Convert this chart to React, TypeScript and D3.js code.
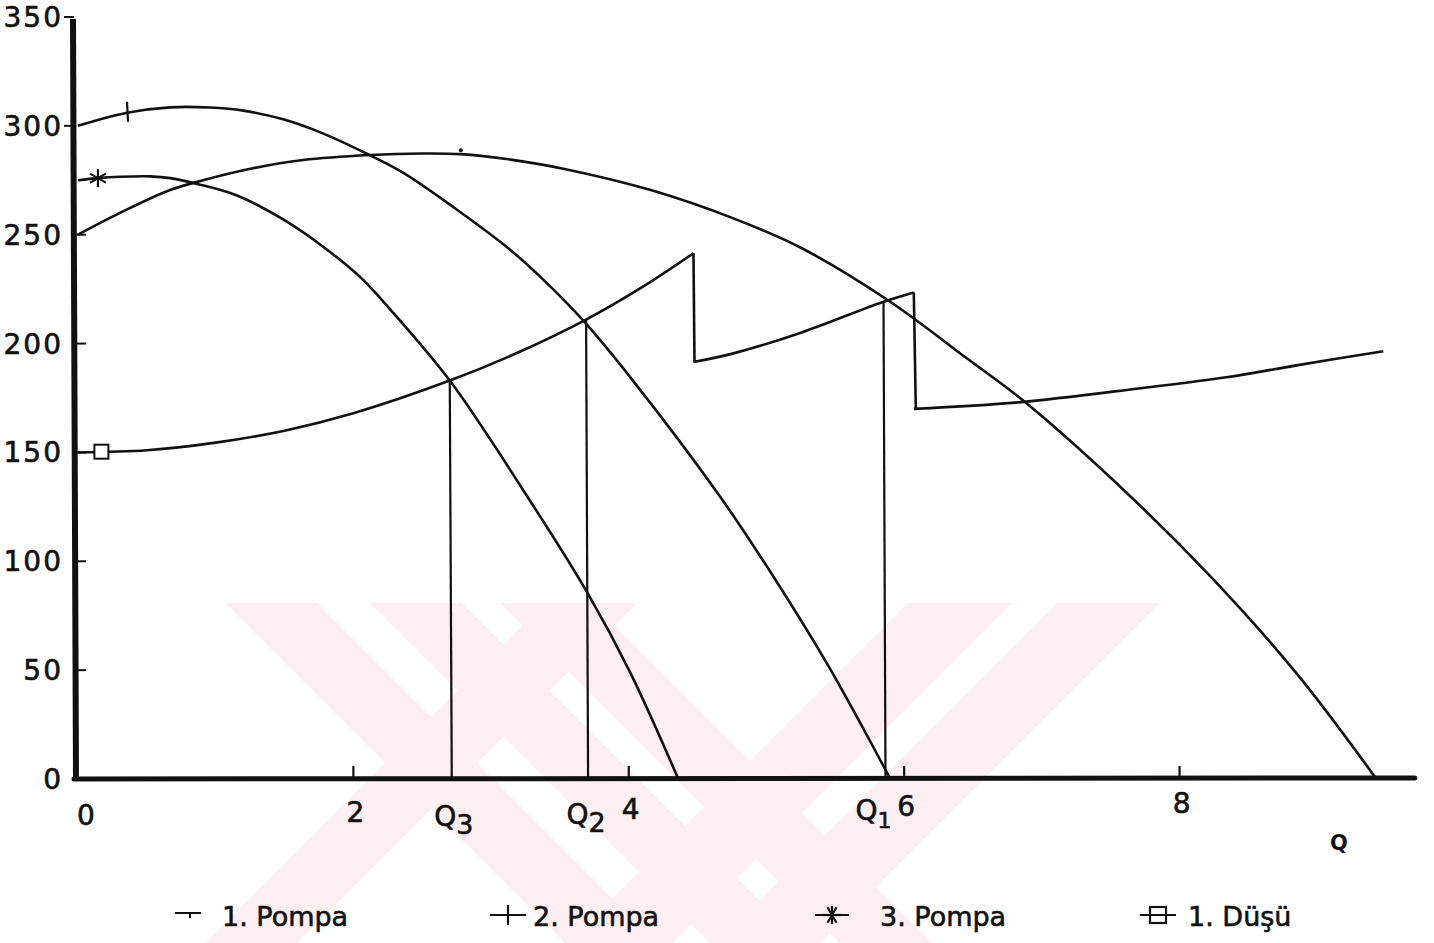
import React from "react";
import * as d3 from "d3";

const W = 1434;
const H = 943;

// axis ticks
const yTicks = [0, 50, 100, 150, 200, 250, 300, 350];
const xTicks = [0, 2, 4, 6, 8];

// 1. Pompa (starts at 250)
const pompa1Q = [0, 0.305, 0.669, 0.908, 1.27, 1.635, 2.12, 2.5, 2.78, 3.14, 3.55, 4.16, 4.76, 5.25, 5.88, 6.46, 6.88, 7.64, 8.24, 8.85, 9.43];
const pompa1H = [250, 260, 270.5, 275, 280.5, 284.3, 286.6, 287.3, 287, 284.5, 280, 270.5, 257.5, 244, 220, 193, 173, 130, 92, 48.5, 0];

// 2. Pompa (starts at 300)
const pompa2Q = [0, 0.356, 0.669, 0.96, 1.2, 1.49, 1.76, 2.12, 2.36, 2.73, 3.14, 3.36, 3.67, 4.03, 4.66, 5.05, 5.44, 5.67, 5.9];
const pompa2H = [300, 306, 308.5, 308.4, 307, 303, 297, 286.5, 278.5, 262.5, 243, 230.5, 210.5, 183, 130, 93, 53, 27, 0];

// 3. Pompa (starts at 275)
const pompa3Q = [0, 0.145, 0.305, 0.523, 0.67, 0.887, 1.155, 1.49, 1.78, 2.05, 2.27, 2.7, 3.23, 3.7, 4.01, 4.36];
const pompa3H = [275, 276, 276.6, 276.8, 276, 273, 268, 257, 244.5, 230.5, 215.5, 183, 133, 85.5, 49, 0];

// 1. Düşü (system curve, three segments)
const dusu1Q = [0, 0.5, 1, 1.5, 2, 2.7, 3.2, 3.69, 4.1, 4.47];
const dusu1H = [150, 151, 154.5, 160, 168, 183, 196, 211, 226, 241.5];
const dusu2Q = [4.47, 4.76, 5.25, 5.84, 6.07];
const dusu2H = [191.5, 195.5, 205, 219, 223.5];
const dusu3Q = [6.07, 6.83, 7.72, 8.34, 8.85, 9.48];
const dusu3H = [170, 173, 179.5, 184.5, 190, 196.5];

// operating points
const opQ = [2.7, 3.69, 5.85];
const opH = [183, 211, 219];
const opName = ["3", "2", "1"];

// markers
const markerQ = { p1: 2.78, p2: 0.356, p3: 0.145, d1: 0.17 };

const legendLabels = ["1. Pompa", "2. Pompa", "3. Pompa", "1. Düşü"];

// watermark bands: [top x, width, direction]
const wmBands = [
  [225, 92, 1], [370, 92, 1], [500, 92, 1],
  [545, 92, -1], [908, 104, -1], [1057, 103, -1],
];

const zip = (qs: number[], hs: number[]) => qs.map((q, i) => [q, hs[i]] as [number, number]);

export default function App() {
  const x = d3.scaleLinear().domain([0, 9.71]).range([78, 1415]);
  const y = d3.scaleLinear().domain([0, 350]).range([779, 17]);
  const line = d3
    .line<[number, number]>()
    .x((d) => x(d[0]))
    .y((d) => y(d[1]))
    .curve(d3.curveCatmullRom.alpha(0.5));

  const font = "'DejaVu Sans', sans-serif";
  const stroke = "#111";

  const dusuSegs = [zip(dusu1Q, dusu1H), zip(dusu2Q, dusu2H), zip(dusu3Q, dusu3H)];

  const interp = (qs: number[], hs: number[], q: number) => {
    for (let i = 0; i < qs.length - 1; i++) {
      if (q >= qs[i] && q <= qs[i + 1]) {
        const t = (q - qs[i]) / (qs[i + 1] - qs[i]);
        return hs[i] + t * (hs[i + 1] - hs[i]);
      }
    }
    return hs[0];
  };

  const wmTop = 603;
  const wmBot = 943;

  const legendLayout = [
    { sx: 188, tx: 222 },
    { sx: 508, tx: 533 },
    { sx: 832, tx: 880 },
    { sx: 1158, tx: 1188 },
  ];
  const legY = 915;

  const star = (cx: number, cy: number, r: number, withH: boolean) => {
    const angs = withH ? [0, 60, 120, 90] : [90, 30, 150];
    return angs.map((a, i) => {
      const rad = (a * Math.PI) / 180;
      return (
        <line
          key={i}
          x1={cx - r * Math.cos(rad)}
          y1={cy - r * Math.sin(rad)}
          x2={cx + r * Math.cos(rad)}
          y2={cy + r * Math.sin(rad)}
          stroke={stroke}
          strokeWidth={2.2}
        />
      );
    });
  };

  const textStroke = { stroke: stroke, strokeWidth: 0.6 };

  return (
    <svg
      width={W}
      height={H}
      style={{ position: "absolute", left: 0, top: 0, background: "#fff" }}
      fontFamily={font}
    >
      <rect x={0} y={0} width={W} height={H} fill="#fff" />
      {/* watermark */}
      <g fill="#fdeef1">
        {wmBands.map(([x0, w, dir], i) => {
          const dy = wmBot - wmTop;
          const pts = [
            [x0, wmTop],
            [x0 + w, wmTop],
            [x0 + w + dir * dy, wmBot],
            [x0 + dir * dy, wmBot],
          ];
          return <polygon key={i} points={pts.map((p) => p.join(",")).join(" ")} />;
        })}
      </g>

      {/* axes */}
      <line x1={73} y1={y(350) + 2} x2={76} y2={y(0) + 2} stroke={stroke} strokeWidth={6} />
      <line x1={74} y1={y(0)} x2={x(9.71)} y2={y(0) - 1} stroke={stroke} strokeWidth={5} strokeLinecap="round" />
      {yTicks.map((t) => (
        <g key={"yt" + t}>
          {t > 0 && (
            <line
              x1={t >= 300 ? 64 : 76}
              x2={t >= 300 ? 74 : 86}
              y1={y(t)}
              y2={y(t)}
              stroke={stroke}
              strokeWidth={2}
            />
          )}
          <text
            x={63}
            y={y(t) + 10}
            textAnchor="end"
            fontSize={28}
            letterSpacing={2}
            fill={stroke}
            {...textStroke}
          >
            {t}
          </text>
        </g>
      ))}
      {xTicks.map((t) => (
        <g key={"xt" + t}>
          {t > 0 && <line x1={x(t)} x2={x(t)} y1={y(0)} y2={y(0) - 13} stroke={stroke} strokeWidth={2.2} />}
          <text
            x={x(t) + (t === 0 ? 8 : 2)}
            y={825 - (x(t) - 78) * 0.011}
            textAnchor="middle"
            fontSize={28}
            fill={stroke}
            {...textStroke}
          >
            {t}
          </text>
        </g>
      ))}
      <text x={1339} y={850} textAnchor="middle" fontSize={21} fontWeight="bold" fill={stroke}>
        Q
      </text>

      {/* operating point drop lines */}
      {opQ.map((q, i) => (
        <g key={"op" + i}>
          <line x1={x(q)} x2={x(q) + 2} y1={y(opH[i])} y2={y(0)} stroke={stroke} strokeWidth={2.2} />
          <text
            x={x(q) + (i === 2 ? -10 : i === 1 ? 0 : 4)}
            y={830 - (x(q) - 78) * 0.012}
            textAnchor="middle"
            fontSize={28}
            fill={stroke}
            {...textStroke}
          >
            Q
            <tspan dy={8} fontSize={i === 2 ? 22 : 27}>
              {opName[i]}
            </tspan>
          </text>
        </g>
      ))}

      {/* curves */}
      <g fill="none" stroke={stroke} strokeWidth={2.6} strokeLinejoin="round">
        <path d={line(zip(pompa1Q, pompa1H)) || ""} />
        <path d={line(zip(pompa2Q, pompa2H)) || ""} />
        <path d={line(zip(pompa3Q, pompa3H)) || ""} />
        {dusuSegs.map((s, i) => (
          <path key={i} d={line(s) || ""} />
        ))}
        {/* vertical drops between system segments */}
        <line x1={x(dusu1Q[dusu1Q.length - 1])} y1={y(dusu1H[dusu1H.length - 1])} x2={x(dusu2Q[0]) + 1} y2={y(dusu2H[0])} />
        <line x1={x(dusu2Q[dusu2Q.length - 1])} y1={y(dusu2H[dusu2H.length - 1])} x2={x(dusu3Q[0]) + 2} y2={y(dusu3H[0])} />
      </g>

      {/* markers on curves */}
      <circle cx={x(markerQ.p1)} cy={y(interp(pompa1Q, pompa1H, markerQ.p1)) - 4} r={2} fill={stroke} />
      <line
        x1={x(markerQ.p2)}
        x2={x(markerQ.p2) + 1}
        y1={y(interp(pompa2Q, pompa2H, markerQ.p2)) - 11}
        y2={y(interp(pompa2Q, pompa2H, markerQ.p2)) + 9}
        stroke={stroke}
        strokeWidth={2.2}
      />
      {star(x(markerQ.p3), y(interp(pompa3Q, pompa3H, markerQ.p3)), 9, false)}
      <rect
        x={x(markerQ.d1) - 7}
        y={y(interp(dusu1Q, dusu1H, markerQ.d1)) - 7}
        width={14}
        height={14}
        fill="#fff"
        stroke={stroke}
        strokeWidth={2}
      />

      {/* legend */}
      {legendLabels.map((lab, i) => {
        const { sx, tx } = legendLayout[i];
        return (
          <g key={"lg" + i}>
            {i === 0 && (
              <>
                <line x1={sx - 13} x2={sx + 13} y1={legY - 2} y2={legY - 2} stroke={stroke} strokeWidth={2} />
                <line x1={sx + 2} x2={sx + 2} y1={legY - 2} y2={legY + 3} stroke={stroke} strokeWidth={2} />
              </>
            )}
            {i === 1 && (
              <>
                <line x1={sx - 18} x2={sx + 18} y1={legY} y2={legY} stroke={stroke} strokeWidth={2.2} />
                <line x1={sx} x2={sx} y1={legY - 10} y2={legY + 10} stroke={stroke} strokeWidth={2.2} />
              </>
            )}
            {i === 2 && (
              <>
                <line x1={sx - 17} x2={sx + 17} y1={legY} y2={legY} stroke={stroke} strokeWidth={2.2} />
                {star(sx, legY, 9, true)}
              </>
            )}
            {i === 3 && (
              <>
                <line x1={sx - 18} x2={sx + 18} y1={legY} y2={legY} stroke={stroke} strokeWidth={2.2} />
                <rect x={sx - 8} y={legY - 8} width={16} height={16} fill="none" stroke={stroke} strokeWidth={2.2} />
              </>
            )}
            <text x={tx} y={legY + 11} fontSize={27} fill={stroke} {...textStroke}>
              {lab}
            </text>
          </g>
        );
      })}
    </svg>
  );
}
